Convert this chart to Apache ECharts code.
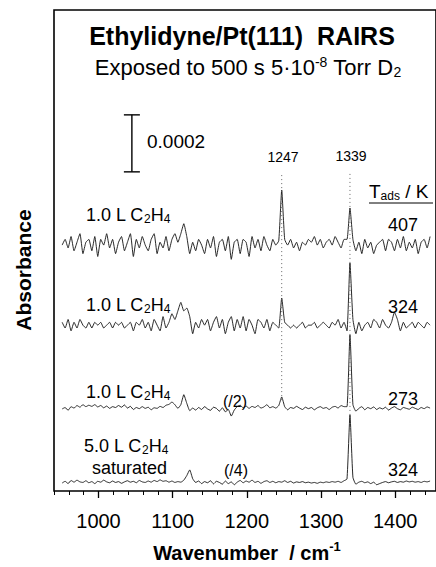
<!DOCTYPE html>
<html><head><meta charset="utf-8">
<script src="https://cdn.jsdelivr.net/npm/echarts@6/dist/echarts.min.js"></script>
<style>html,body{margin:0;padding:0;background:#fff}#c{width:436px;height:567px}</style>
</head><body><div id="c"></div>
<script>
// Wavenumber sampling (cm-1)
const wavenumbers = [951,955,959,963,967,971,975,979,983,987,991,995,999,1003,1007,1011,1015,1019,1023,1027,1031,1035,1039,1043,1047,1051,1055,1059,1063,1067,1071,1075,1079,1083,1087,1091,1095,1099,1103,1107,1111,1115,1119,1123,1127,1131,1135,1139,1143,1147,1151,1155,1159,1163,1167,1171,1175,1179,1183,1187,1191,1195,1199,1203,1207,1211,1215,1219,1223,1227,1231,1235,1239,1243,1247,1251,1255,1259,1263,1267,1271,1275,1279,1283,1287,1291,1295,1299,1303,1307,1311,1315,1319,1323,1327,1331,1335,1339,1343,1347,1351,1355,1359,1363,1367,1371,1375,1379,1383,1387,1391,1395,1399,1403,1407,1411,1415,1419,1423,1427,1431,1435,1439,1443,1447];

// Absorbance in units of 1e-5 (relative to each trace's baseline)
const trace407 = [0,2,-1,3,-2,1,4,-3,1,2, -2,3,-4,2,0,4,-1,2,-3,1, 3,-2,1,4,-4,2,-1,3,0,-2, 2,4,-3,1,-1,3,-2,2,4,1, 4,7.5,3,-3,1,-2,2,0,-3,2, -1,3,-4,1,2,-2,3,-5,1,2, -3,2,1,-4,3,-1,2,-2,3,0, -2,2,0,1.5,19.3,2,0,2,-1,1, -2,1,0,2,1,3,0,2,-1,1, 2,0,3,1,-1,2,2,13,2,-2, 1,-3,2,-1,1,-3,0,1,2,-2, 2,1,-2,2,-1,3,-2,1,-1,2, -3,1,2,-1,3];
const trace324 = [1,-1,2,-2,1,-1,2,0,-1,1, -1,1,0,1,-1,0,1,-1,1,0, 1,-1,0,1,-2,1,0,2,-1,1, -2,2,0,-2,3,-1,1,4,2,5, 8,5,6,3,-3,1,-1,2,0,2, -2,1,3,-1,2,-3,1,3,-2,2, -1,3,-2,2,0,-3,2,1,-1,2, -2,1,0,-1,9.5,1,0,-1,0,-1, 0,1,-1,0,0,1,-1,0,1,0, -1,1,0,2,-1,1,-2,21.8,2,-3, 1,-2,0,1,-1,2,1,-1,2,0, -1,1,4.5,2,-2,1,-1,0,1,-1, 1,0,-1,1,0];
const trace273 = [0,0.5,-0.5,0.8,0.3,1.2,0.6,1.5,0.8,1.3, 0.9,1.5,0.7,1.2,0.4,1.0,0.2,0.8,0.5,1.2, 0.6,1.4,0.3,0.9,-0.2,0.5,0.1,0.8,0.2,0.6, -0.3,0.4,0.2,0.9,0.5,1.3,1.6,2.4,1.5,0.2, 1.5,5.0,2.0,-0.6,0.3,-0.4,0.5,-0.2,0.8,0, -0.5,0.6,0.2,-0.8,0.4,-1.0,-0.2,-2.5,-0.4,0.8, 1.3,0.4,1.0,0.2,0.9,0.5,1.2,0.3,0.7,1.5, 0.4,0.8,0.3,1.2,4.2,0.8,-0.3,0.5,0.2,0.9, 0.3,-0.2,0.6,0.1,0.5,-0.3,0.4,0.8,0.2,0.5, -0.2,0.6,0.9,0.3,1.2,0.8,0.8,26,1.5,-0.8, 0.2,0.8,-0.3,0.5,0.1,0.7,-0.2,0.4,0.0,0.6, -0.4,0.3,0.8,0.1,-0.3,0.5,0.2,-0.1,0.6,0.2, -0.2,0.5,0.1,0.7,0.3];
const traceSat = [0,0.6,-0.2,0.9,0.3,1.0,0.4,0.2,0.8,0.1, 0.5,-0.2,0.6,0.3,1.0,0.4,0.1,0.7,0.2,0.5, -0.1,0.4,0.8,0.3,0.6,0.1,0.9,0.4,0.2,0.7, 0.3,0.9,0.5,1.1,0.6,0.8,0.3,0.7,0.2,0.5, 0.3,1.0,2.6,4.6,1.5,0.2,0.7,-0.2,0.5,0.1, 0.8,-0.3,0.6,0.2,-0.4,0.7,-0.2,0.4,-0.6,0.3, 0.9,0.1,0.7,0.3,1.0,0.2,0.6,-0.1,0.5,0.8, 0.2,0.6,0.1,0.5,0.3,0.8,0.2,0.6,0.0,0.4, 0.2,0.5,0.1,0.3,0.0,0.2,-0.1,0.3,0.1,0.4, 0.2,0.5,0.3,0.6,0.2,0.8,1.4,23.9,2.0,-0.4, 0.3,0.6,0.1,0.4,-0.2,0.3,-0.6,-0.2,0.2,0.5, 0.1,0.4,0.6,0.2,0.5,0.3,0.7,0.4,0.6,0.3, 0.5,0.2,0.6,0.4,0.7];

const traces = [trace407, trace324, trace273, traceSat];
const traceOffsets = [86.3, 58.2, 28.8, 2.8];
const peakPositions = [1247, 1339];
const peakLineRanges = [[31.9, 111.6], [26.7, 111.6]];
const majorTicks = [1000, 1100, 1200, 1300, 1400];
const minorTicks = [940,960,980,1000,1020,1040,1060,1080,1100,1120,1140,1160,1180,1200,1220,1240,1260,1280,1300,1320,1340,1360,1380,1400,1420,1440];
const scaleBar = [[1045, 112, 132]]; // 0.0002 = 20 units

const FONT = '"Liberation Sans", Arial, Helvetica, sans-serif';
const chart = echarts.init(document.getElementById('c'), null, {renderer: 'svg'});

const series = traces.map((vals, k) => ({
  type: 'line', xAxisIndex: 0, yAxisIndex: 0, symbol: 'none', silent: true, smooth: 0.15,
  lineStyle: {color: '#111', width: 0.9},
  data: wavenumbers.map((w, i) => [w, traceOffsets[k] + vals[i]])
}));
peakPositions.forEach((p, k) => {
  series.push({
    type: 'line', xAxisIndex: 0, yAxisIndex: 0, symbol: 'none', silent: true,
    lineStyle: {color: '#666', width: 1, type: [1, 3]},
    data: [[p, peakLineRanges[k][0]], [p, peakLineRanges[k][1]]]
  });
});
series.push({
  type: 'custom', xAxisIndex: 0, yAxisIndex: 0, silent: true,
  encode: {x: 0, y: [1, 2]},
  data: scaleBar,
  renderItem: (params, api) => {
    const b = api.coord([api.value(0), api.value(1)]);
    const t = api.coord([api.value(0), api.value(2)]);
    const st = {stroke: '#000', lineWidth: 1.4};
    return {type: 'group', children: [
      {type: 'line', shape: {x1: b[0], y1: b[1], x2: t[0], y2: t[1]}, style: st},
      {type: 'line', shape: {x1: b[0] - 8, y1: b[1], x2: b[0] + 8, y2: b[1]}, style: st},
      {type: 'line', shape: {x1: t[0] - 8, y1: t[1], x2: t[0] + 8, y2: t[1]}, style: st}
    ]};
  }
});

function txt(x, y, text, size, opts) {
  opts = opts || {};
  return {
    type: 'text', x: x, y: y, rotation: opts.rotation || 0, silent: true,
    style: {
      text: text, fill: '#000', fontSize: size, fontFamily: FONT,
      fontWeight: opts.bold ? 'bold' : 'normal',
      align: opts.align || 'center', textAlign: opts.align || 'center',
      verticalAlign: 'middle', textVerticalAlign: 'middle',
      rich: opts.rich
    }
  };
}
const richC2H4 = {
  n: {fontSize: 18, fontFamily: FONT, lineHeight: 20},
  sub: {fontSize: 12, fontFamily: FONT, verticalAlign: 'bottom'}
};
const c2h4 = (pre) => '{n|' + pre + 'C}{sub|2}{n|H}{sub|4}';

const graphics = [
  txt(242, 36, 'Ethylidyne/Pt(111)  RAIRS', 25, {bold: true}),
  txt(248, 67, '{n|Exposed to 500 s 5·10}{sup|-8}{n| Torr D}{sub|2}', 22, {rich: {
    n: {fontSize: 22, fontFamily: FONT, lineHeight: 24},
    sup: {fontSize: 14, fontFamily: FONT, verticalAlign: 'top'},
    sub: {fontSize: 14, fontFamily: FONT, verticalAlign: 'bottom'}
  }}),
  txt(147, 141, '0.0002', 19, {align: 'left'}),
  txt(283, 157, '1247', 14),
  txt(351, 156, '1339', 14),
  txt(369, 191, '{n|T}{sub|ads}{n| / K}', 19, {align: 'left', rich: {
    n: {fontSize: 19, fontFamily: FONT, lineHeight: 22},
    sub: {fontSize: 12, fontFamily: FONT, verticalAlign: 'bottom'}
  }}),
  {type: 'line', silent: true, shape: {x1: 369, y1: 203, x2: 433, y2: 203}, style: {stroke: '#000', lineWidth: 1}},
  txt(403, 225, '407', 18),
  txt(403, 307, '324', 18),
  txt(403, 399, '273', 18),
  txt(403, 470, '324', 18),
  txt(86, 215, c2h4('1.0 L '), 18, {align: 'left', rich: richC2H4}),
  txt(86, 305, c2h4('1.0 L '), 18, {align: 'left', rich: richC2H4}),
  txt(86, 392, c2h4('1.0 L '), 18, {align: 'left', rich: richC2H4}),
  txt(84, 446, c2h4('5.0 L '), 18, {align: 'left', rich: richC2H4}),
  txt(92, 468, 'saturated', 18, {align: 'left'}),
  txt(235, 401, '(/2)', 16),
  txt(236, 470, '(/4)', 16),
  txt(247, 553, '{n|Wavenumber  / cm}{sup|-1}', 20, {bold: true, rich: {
    n: {fontSize: 20, fontWeight: 'bold', fontFamily: FONT, lineHeight: 26},
    sup: {fontSize: 13, fontWeight: 'bold', fontFamily: FONT, verticalAlign: 'top'}
  }}),
  txt(23, 270, 'Absorbance', 21, {bold: true, rotation: Math.PI / 2})
];

chart.setOption({
  animation: false,
  backgroundColor: '#fff',
  grid: [
    {left: 54, right: -1, top: 10, bottom: 76, show: true, borderColor: '#000', borderWidth: 1.6, backgroundColor: 'transparent'},
    {left: 54, right: -1, top: 10, bottom: 76, show: false}
  ],
  xAxis: [
    {type: 'value', gridIndex: 0, min: 940, max: 1455, position: 'bottom',
     axisLine: {show: false}, splitLine: {show: false},
     axisTick: {show: true, length: 7, customValues: majorTicks, lineStyle: {color: '#000', width: 1.3}},
     axisLabel: {show: true, customValues: majorTicks, fontSize: 20, fontFamily: FONT, color: '#000', margin: 20,
                 formatter: (v) => String(v)}},
    {type: 'value', gridIndex: 1, min: 940, max: 1455, position: 'bottom',
     axisLine: {show: false}, splitLine: {show: false},
     axisTick: {show: true, length: 4, customValues: minorTicks, lineStyle: {color: '#000', width: 1}},
     axisLabel: {show: false}}
  ],
  yAxis: [
    {type: 'value', gridIndex: 0, min: 0, max: 168.8, show: false},
    {type: 'value', gridIndex: 1, min: 0, max: 168.8, show: false}
  ],
  series: series,
  graphic: graphics
});
</script></body></html>
